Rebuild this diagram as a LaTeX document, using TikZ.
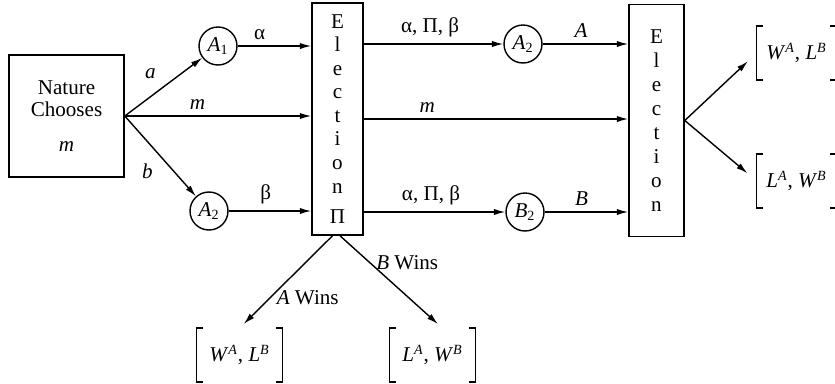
\documentclass[tikz,border=0pt]{standalone}
\usepackage{fontspec}
\setmainfont{Liberation Serif}
\usepackage{tikz}
\usetikzlibrary{arrows.meta,positioning,calc}
\tikzset{
  arr/.style={-{Latex[length=6.5pt,width=3.6pt]},line width=0.8pt},
  lab/.style={font=\fontsize{12}{14}\selectfont},
  player/.style={circle,draw,line width=0.8pt,minimum size=0.76cm,inner sep=0pt,font=\fontsize{12}{14}\selectfont},
  elecbox/.style={draw,line width=0.9pt,align=center,inner sep=0pt,minimum height=4.64cm},
  payoff/.style={minimum width=1.7cm,minimum height=1.06cm,inner sep=0pt,font=\fontsize{12}{14}\selectfont},
}

\begin{document}
\begin{tikzpicture}[x=0.02cm,y=-0.02cm]
  \useasboundingbox (0,0) rectangle (835,383);
  \clip (0,0) rectangle (835,383);
  % first stage
  \node[draw,line width=0.9pt,minimum width=2.3cm,minimum height=2.44cm,align=center,
        font=\fontsize{12}{12.5}\selectfont] (nature) at (66.5,116) {Nature\\Chooses\\[7pt]\textit{m}};
  \node[player] (a1) at (218,46) {\textit{A}\textsubscript{1}};
  \node[player] (a2l) at (209,211) {\textit{A}\textsubscript{2}};
  \node[elecbox,minimum width=1.02cm,font=\fontsize{12}{13.4}\selectfont] (elec1) at (337.5,119)
    {E\\l\\e\\c\\t\\i\\o\\n\\[4pt]Π};
  % second stage
  \node[player] (a2r) at (523,44) {\textit{A}\textsubscript{2}};
  \node[player] (b2) at (525,212) {\textit{B}\textsubscript{2}};
  \node[elecbox,minimum width=1.1cm,font=\fontsize{12}{13.6}\selectfont] (elec2) at (656.5,120.5)
    {E\\l\\e\\c\\t\\i\\o\\n};
  % outcomes
  \node[payoff,minimum width=1.58cm] (wr) at (796.5,53) {\textit{W}\textsuperscript{\textit{A}}, \textit{L}\textsuperscript{\textit{B}}};
  \node[payoff,minimum width=1.58cm] (lr) at (796.5,181) {\textit{L}\textsuperscript{\textit{A}}, \textit{W}\textsuperscript{\textit{B}}};
  \node[payoff] (wl) at (239.5,355) {\textit{W}\textsuperscript{\textit{A}}, \textit{L}\textsuperscript{\textit{B}}};
  \node[payoff] (lw) at (432.5,355) {\textit{L}\textsuperscript{\textit{A}}, \textit{W}\textsuperscript{\textit{B}}};
  \foreach \p in {wr,lr,wl,lw} {
    \draw[line width=0.8pt] ($(\p.north west)+(6,0)$) -- (\p.north west) -- (\p.south west) -- ($(\p.south west)+(6,0)$);
    \draw[line width=0.8pt] ($(\p.north east)+(-6,0)$) -- (\p.north east) -- (\p.south east) -- ($(\p.south east)+(-6,0)$);
  }
  % moves
  \draw[arr] (nature.east) -- node[lab,above left=1pt] {\textit{a}} (a1);
  \draw[arr] (nature.east) -- node[lab,below left=1pt] {\textit{b}} (a2l);
  \draw[arr] (nature.east) -- node[lab,pos=0.39,above] {\textit{m}} (nature.east -| elec1.west);
  \draw[arr] (a1) -- node[lab,pos=0.3,above] {α} (a1 -| elec1.west);
  \draw[arr] (a2l) -- node[lab,pos=0.45,above] {β} (a2l -| elec1.west);
  \draw[arr] (elec1.east |- a2r) -- node[lab,pos=0.475,above] {α, Π, β} (a2r);
  \draw[arr] (elec1.east) -- node[lab,pos=0.24,above] {\textit{m}} (elec1.east -| elec2.west);
  \draw[arr] (elec1.east |- b2) -- node[lab,pos=0.475,above] {α, Π, β} (b2);
  \draw[arr] (a2r) -- node[lab,pos=0.45,above] {\textit{A}} (a2r -| elec2.west);
  \draw[arr] (b2) -- node[lab,pos=0.44,above] {\textit{B}} (b2 -| elec2.west);
  \draw[arr,shorten >=0.24cm] (elec2.east) -- (wr.west);
  \draw[arr,shorten >=0.24cm] (elec2.east) -- (lr.west);
  \draw[arr,shorten >=0.12cm] ([xshift=-0.1cm]elec1.south) -- node[lab,pos=0.67,anchor=west] {\textit{A} Wins} (wl.north);
  \draw[arr,shorten >=0.12cm] ([xshift=0.05cm]elec1.south) -- node[lab,pos=0.29,anchor=west] {\textit{B} Wins} ([xshift=0.2cm]lw.north);
\end{tikzpicture}
\end{document}
